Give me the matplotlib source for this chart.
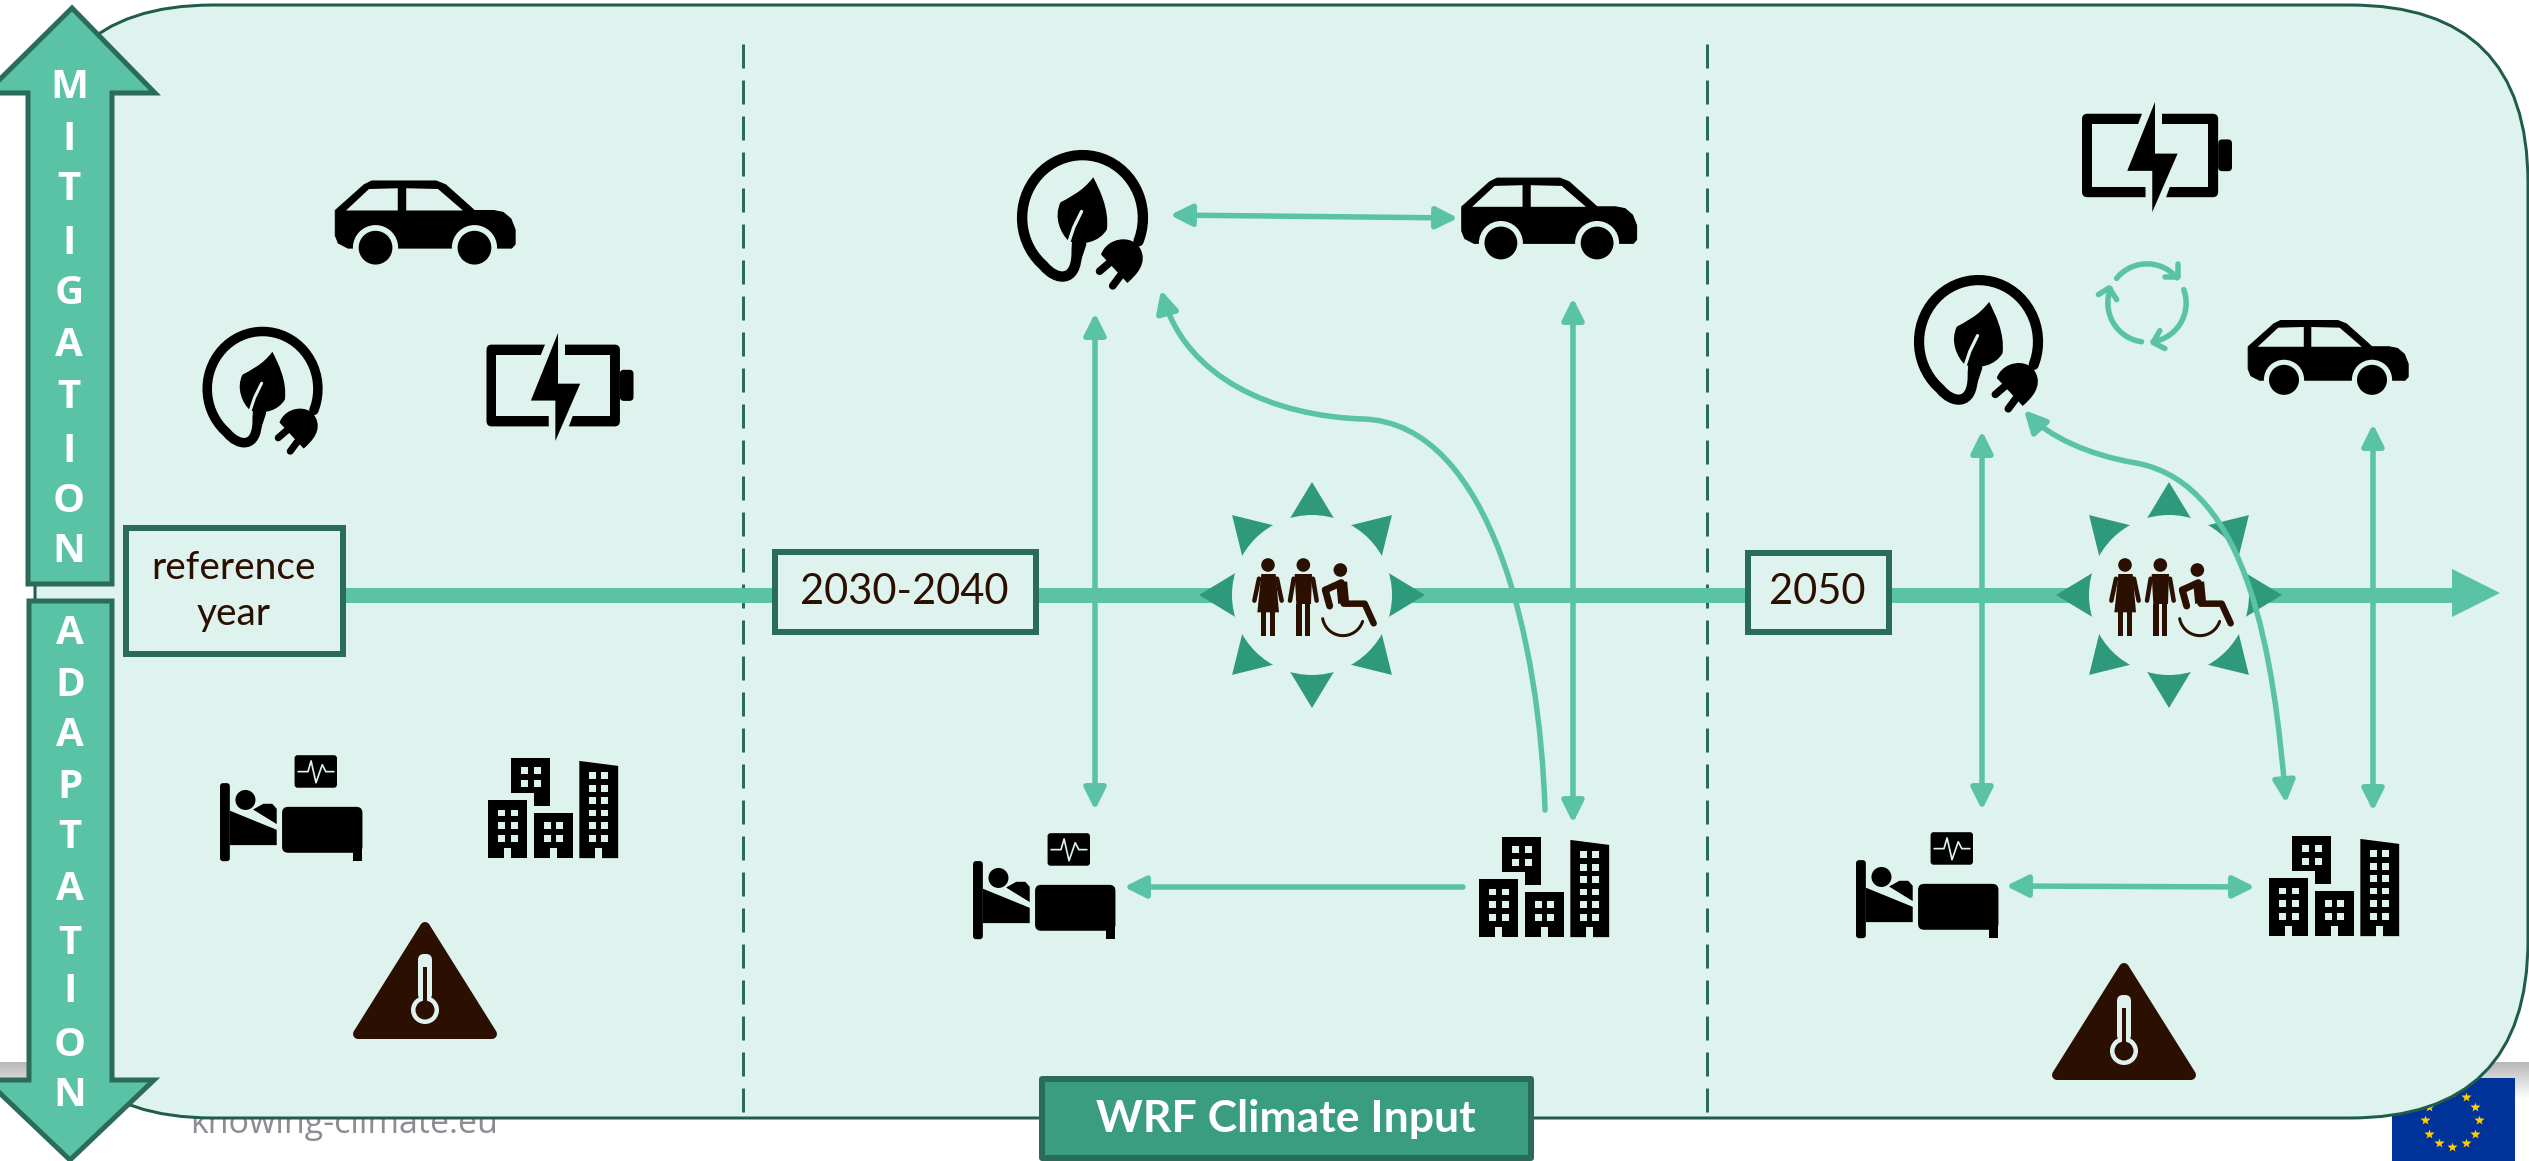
"""Climate pathway diagram: mitigation and adaptation over three time slices."""
import matplotlib

matplotlib.use("Agg")
import matplotlib.pyplot as plt
import numpy as np
from matplotlib.patches import Circle, Ellipse, FancyArrowPatch, FancyBboxPatch, PathPatch, Polygon, Rectangle
from matplotlib.path import Path

# Colours
PANEL = "#def3ed"
EDGE = "#2b6b5a"
MINT = "#5ac3a5"
DARK_MINT = "#2f9a7b"
BROWN = "#2b0f00"

# Labels
MITIGATION = list("MITIGATION")
MITIGATION_Y = [87, 140, 190, 244, 293, 346, 398, 451, 501, 551]
ADAPTATION = list("ADAPTATION")
ADAPTATION_Y = [633, 686, 735, 788, 837, 890, 943, 992, 1045, 1095]
BOX_LABELS = ["reference\nyear", "2030-2040", "2050"]
BOX_X = [(126, 343), (775, 1036), (1748, 1889)]
BOX_Y = [(528, 654), (552, 632), (553, 632)]
DASHED_X = [743, 1707]

# Icons as (centre x, centre y, width)
CARS = [(425, 222, 181), (1549, 218, 176), (2328, 357, 161)]
PLUGS = [(263, 390, 120), (1083, 219, 131), (1979, 343, 129)]
BATTERIES = [(560, 387, 147), (2157, 157, 150)]
BEDS = [(291, 808, 144), (1044, 886, 144), (1927, 885, 144)]
CITIES = [(553, 808, 132), (1544, 887, 132), (2334, 886, 132)]
WARNINGS = [(425, 980, 147), (2124, 1021, 147)]
PEOPLE = [(1312, 595), (2169, 595)]
RECYCLE = (2147, 303)

# Links between icons
DOUBLE_LINKS = [
    ((1170, 215), (1458, 218)),
    ((1095, 313), (1095, 810)),
    ((1573, 298), (1573, 823)),
    ((1982, 431), (1982, 810)),
    ((2373, 424), (2373, 811)),
    ((2006, 886), (2255, 887)),
]
SINGLE_LINKS = [((1463, 887), (1124, 887))]
CURVE_MID = [(1545, 810), (1540, 645), (1492, 423), (1363, 419), (1274, 416), (1186, 379), (1161, 290)]
CURVE_RIGHT = [(2286, 803), (2274, 661), (2250, 484), (2136, 463), (2088, 455), (2048, 436), (2024, 410)]


def px(n):
    """Pixels to points at 100 dpi."""
    return n * 0.72


def mapper(ox, oy, kx, ky, cx, cy, s):
    """Map sketch coordinates of an icon onto the canvas."""

    def convert(pts):
        pts = np.asarray(pts, dtype=float).reshape(-1, 2)
        return np.column_stack([cx + (pts[:, 0] - ox) / kx * s, cy + (pts[:, 1] - oy) / ky * s])

    return convert


def poly(ax, pts, color, z, lw=0):
    ax.add_patch(Polygon(pts, closed=True, fc=color, ec=color, lw=px(lw), joinstyle="round", zorder=z))


def stroke(ax, pts, color, width, z, cap="round"):
    ax.plot(pts[:, 0], pts[:, 1], color=color, lw=px(width), solid_capstyle=cap, solid_joinstyle="round", zorder=z)


def box(ax, t, x0, y0, x1, y1, color, z):
    """Axis aligned rectangle given in sketch coordinates."""
    (a, b), (c, d) = t([(x0, y0), (x1, y1)])
    ax.add_patch(Rectangle((a, b), c - a, d - b, fc=color, ec="none", zorder=z))


def rbox(ax, t, x0, y0, x1, y1, r, color, z):
    (a, b), (c, d) = t([(x0, y0), (x1, y1)])
    ax.add_patch(FancyBboxPatch((a + r, b + r), c - a - 2 * r, d - b - 2 * r, boxstyle=f"round,pad={r}",
                                fc=color, ec="none", zorder=z))


def draw_car(ax, cx, cy, w):
    t = mapper(971, 830, 472, 472, cx, cy, w)
    s = w / 472
    body = [(737, 800), (812, 733), (832, 723), (1000, 723), (1025, 733), (1100, 800), (1150, 800), (1175, 805),
            (1195, 822), (1206, 850), (1206, 888), (1197, 898), (770, 898), (745, 885), (737, 865)]
    poly(ax, t(body), "black", 6, lw=1)
    poly(ax, t([(765, 800), (825, 744), (900, 742), (900, 800)]), PANEL, 6.1)
    poly(ax, t([(922, 742), (1005, 744), (1070, 800), (922, 800)]), PANEL, 6.1)
    for wheel_x in (842, 1100):
        (wx, wy), = t([(wheel_x, 897)])
        ax.add_patch(Circle((wx, wy), 59 * s, fc=PANEL, ec="none", zorder=6.2))
        ax.add_patch(Circle((wx, wy), 44 * s, fc="black", ec="none", zorder=6.3))


def draw_battery(ax, cx, cy, w):
    t = mapper(464, 225, 444, 444, cx, cy, w)
    s = w / 444
    rbox(ax, t, 645, 173, 686, 267, 12 * s, "black", 6)
    rbox(ax, t, 242, 97, 645, 344, 16 * s, "black", 6)
    box(ax, t, 272, 128, 615, 313, PANEL, 6.1)
    poly(ax, t([(422, 90), (478, 90), (478, 135), (405, 135)]), PANEL, 6.2)
    poly(ax, t([(430, 305), (505, 305), (488, 352), (430, 352)]), PANEL, 6.2)
    poly(ax, t([(458, 62), (458, 215), (525, 215), (450, 388), (450, 266), (376, 266)]), "black", 6.3)


def draw_plug(ax, cx, cy, w):
    t = mapper(591, 1015, 2.24, 2.613, cx, cy, w / 120)
    s = w / 120
    angles = np.radians(np.arange(-22, 233, 6))
    ring = np.column_stack([590 + 124 * np.cos(angles), 1012 - 150 * np.sin(angles)])
    tail = [(535, 1162), (578, 1170), (578, 1095), (578, 1075), (580, 1050), (590, 1000)]
    verts = t(np.vstack([ring, tail]))
    codes = [Path.MOVETO] + [Path.LINETO] * (len(ring) - 1) + [Path.CURVE4] * 6
    ax.add_patch(PathPatch(Path(verts, codes), fc="none", ec="black", lw=px(9.5 * s), capstyle="round", zorder=6))
    leaf = Path(t([(612, 915), (590, 950), (560, 965), (545, 975), (530, 1010), (545, 1050), (562, 1068), (590, 1080),
                   (625, 1070), (640, 1040), (645, 990), (625, 945), (612, 915)]),
                [Path.MOVETO] + [Path.CURVE4] * 12)
    ax.add_patch(PathPatch(leaf, fc="black", ec="black", lw=0, zorder=6.1))
    stroke(ax, t([(588, 997), (572, 1035), (562, 1070)]), PANEL, 3 * s, 6.2)
    stroke(ax, t([(590, 1075), (580, 1110)]), "black", 7 * s, 6.3)
    head = Path(t([(628, 1100), (640, 1060), (690, 1050), (708, 1085), (725, 1120), (700, 1150), (682, 1168), (628, 1100)]),
                [Path.MOVETO] + [Path.CURVE4] * 6 + [Path.CLOSEPOLY])
    ax.add_patch(PathPatch(head, fc="black", ec="none", zorder=6.4))
    stroke(ax, t([(645, 1120), (625, 1140)]), "black", 7 * s, 6.4)
    stroke(ax, t([(668, 1150), (652, 1175)]), "black", 7 * s, 6.4)


def draw_bed(ax, cx, cy, w):
    t = mapper(652, 648, 2.24, 2.613, cx, cy, w / 144)
    s = w / 144
    rbox(ax, t, 493, 583, 515, 787, 3 * s, "black", 6)
    poly(ax, t([(515, 655), (620, 705), (620, 745), (515, 745)]), "black", 6)
    (hx, hy), = t([(550, 627)])
    ax.add_patch(Ellipse((hx, hy), 20 * s, 20 * s, fc="black", ec="none", zorder=6))
    poly(ax, t([(567, 652), (590, 637), (610, 637), (620, 650), (620, 690)]), "black", 6)
    rbox(ax, t, 632, 645, 812, 765, 6 * s, "black", 6)
    box(ax, t, 790, 750, 812, 787, "black", 6)
    rbox(ax, t, 660, 510, 755, 595, 3 * s, "black", 6)
    ecg = [(668, 553), (690, 553), (697, 525), (708, 582), (722, 535), (730, 553), (748, 553)]
    stroke(ax, t(ecg), PANEL, 1.7 * s, 6.1)


def draw_city(ax, cx, cy, w):
    t = mapper(1238, 646, 2.24, 2.613, cx, cy, w / 132)
    poly(ax, t([(1144, 515), (1232, 515), (1232, 642), (1195, 642), (1195, 607), (1144, 607)]), "black", 6)
    box(ax, t, 1093, 625, 1180, 777, "black", 6)
    box(ax, t, 1195, 658, 1282, 777, "black", 6)
    poly(ax, t([(1297, 523), (1384, 536), (1384, 777), (1297, 777)]), "black", 6)
    towers = [
        (1167, [540, 573], False),
        (1115, [650, 683, 717], True),
        (1217, [683, 717], True),
        (1318, [553, 585, 617, 650, 683, 717], True),
    ]
    for x0, rows, door in towers:
        for y0 in rows:
            box(ax, t, x0, y0, x0 + 16, y0 + 18, PANEL, 6.1)
            box(ax, t, x0 + 28, y0, x0 + 44, y0 + 18, PANEL, 6.1)
        if door:
            box(ax, t, x0 + 14, 750, x0 + 30, 778, PANEL, 6.1)


def draw_warning(ax, cx, cy, w):
    s = w / 147
    t = mapper(0, 0, 1, 1, cx, cy, s)
    poly(ax, t([(0, -53), (67, 54), (-67, 54)]), BROWN, 6, lw=10 * s)
    rbox(ax, t, -7, -26, 7, 20, 6 * s, PANEL, 6.1)
    (bx, by), = t([(0, 30)])
    ax.add_patch(Circle((bx, by), 14 * s, fc=PANEL, ec="none", zorder=6.1))
    ax.add_patch(Circle((bx, by), 9.5 * s, fc=BROWN, ec="none", zorder=6.2))
    box(ax, t, -2, -13, 2, 24, BROWN, 6.2)


def draw_people(ax, cx, cy):
    """Sun of triangles around a woman, a man and a wheelchair user."""
    for deg in range(0, 360, 45):
        a = np.radians(deg)
        ux, uy = np.cos(a), np.sin(a)
        tip = (cx + 113 * ux, cy + 113 * uy)
        b1 = (cx + 70 * ux - 26 * uy, cy + 70 * uy + 26 * ux)
        b2 = (cx + 70 * ux + 26 * uy, cy + 70 * uy - 26 * ux)
        poly(ax, [tip, b1, b2], DARK_MINT, 2.4)
    ax.add_patch(Circle((cx, cy), 80, fc=PANEL, ec="none", zorder=2.5))
    t = mapper(487, 345, 3, 3, cx, cy, 1)
    for hx, hy in [(355, 255), (461, 255), (572, 270)]:
        (a, b), = t([(hx, hy)])
        ax.add_patch(Circle((a, b), 6.8, fc=BROWN, ec="none", zorder=6))
    # woman
    poly(ax, t([(335, 282), (378, 282), (388, 397), (323, 397)]), BROWN, 6)
    stroke(ax, t([(328, 296), (314, 362)]), BROWN, 4.5, 6)
    stroke(ax, t([(382, 296), (396, 362)]), BROWN, 4.5, 6)
    box(ax, t, 335, 397, 350, 467, BROWN, 6)
    box(ax, t, 362, 397, 377, 467, BROWN, 6)
    # man
    poly(ax, t([(435, 282), (487, 282), (484, 372), (440, 372)]), BROWN, 6)
    stroke(ax, t([(432, 296), (421, 362)]), BROWN, 4.5, 6)
    stroke(ax, t([(490, 296), (501, 362)]), BROWN, 4.5, 6)
    box(ax, t, 440, 372, 457, 467, BROWN, 6)
    box(ax, t, 465, 372, 482, 467, BROWN, 6)
    # wheelchair
    stroke(ax, t([(576, 306), (582, 370)]), BROWN, 11, 6, cap="butt")
    stroke(ax, t([(527, 330), (575, 308)]), BROWN, 7, 6)
    stroke(ax, t([(527, 330), (540, 378)]), BROWN, 7, 6)
    stroke(ax, t([(582, 371), (645, 371), (672, 430)]), BROWN, 6.5, 6)
    angles = np.radians(np.arange(18, 178, 8))
    wheel = np.column_stack([580 + 62 * np.cos(angles), 405 + 62 * np.sin(angles)])
    stroke(ax, t(wheel), BROWN, 3, 6)


def draw_recycle(ax, cx, cy):
    t = mapper(0, 0, 2.964, 2.964, cx, cy, 1)
    arcs = [(141, 40), (20, -81), (-98, -201)]
    heads = [
        [(93, -78), (93, -115), (53, -78)],
        [(18, 117), (38, 82), (53, 135)],
        [(-112, -45), (-144, -25), (-90, -10)],
    ]
    for (a0, a1), head in zip(arcs, heads):
        angles = np.radians(np.linspace(a0, a1, 30))
        arc = np.column_stack([116 * np.cos(angles), -116 * np.sin(angles)])
        stroke(ax, t(arc), MINT, 5.5, 6)
        corner, end1, end2 = head
        stroke(ax, t([end1, corner, end2]), MINT, 5.5, 6)


def bezier_path(points):
    return Path(points, [Path.MOVETO] + [Path.CURVE4] * (len(points) - 1))


def big_arrow(ax, pts):
    ax.add_patch(Polygon(pts, closed=True, fc=MINT, ec=EDGE, lw=px(5), joinstyle="miter", zorder=8))


fig = plt.figure(figsize=(25.29, 11.61), dpi=100)
ax = fig.add_axes([0, 0, 1, 1])

# Slide remnants behind the panel
fade = np.linspace(0.72, 1.0, 32).reshape(-1, 1)
ax.imshow(fade, extent=(0, 60, 1100, 1062), cmap="gray", vmin=0, vmax=1, aspect="auto", zorder=0)
ax.imshow(fade, extent=(2280, 2529, 1100, 1062), cmap="gray", vmin=0, vmax=1, aspect="auto", zorder=0)
ax.add_patch(Rectangle((2392, 1078), 123, 90, fc="#003399", ec="none", zorder=0.5))
for deg in range(0, 360, 30):
    a = np.radians(deg)
    ax.plot(2452 + 27 * np.cos(a), 1120 + 27 * np.sin(a), marker="*", ms=7, color="#ffcc00", mec="none", zorder=0.6)
ax.text(190, 1133, "knowing-climate.eu", family="Open Sans", fontsize=24.5, color="#8c8c92", va="baseline", zorder=0.6)

# Rounded panel
ax.add_patch(FancyBboxPatch((35 + 178, 5 + 178), 2528 - 35 - 356, 1118 - 5 - 356, boxstyle="round,pad=178,rounding_size=178",
                            fc=PANEL, ec="#1f5c4c", lw=px(3), zorder=1))

for x in DASHED_X:
    ax.plot([x, x], [44, 1122], color=EDGE, lw=px(3), ls=(0, (8, 4)), zorder=1.5)

# Time line
ax.plot([337, 2460], [595, 595], color=MINT, lw=px(15), solid_capstyle="butt", zorder=2)
ax.add_patch(Polygon([(2452, 569), (2500, 593), (2452, 617)], closed=True, fc=MINT, ec="none", zorder=2))

for cx, cy in PEOPLE:
    draw_people(ax, cx, cy)

# Time slice boxes
for label, (x0, x1), (y0, y1) in zip(BOX_LABELS, BOX_X, BOX_Y):
    ax.add_patch(Rectangle((x0, y0), x1 - x0, y1 - y0, fc=PANEL, ec=EDGE, lw=px(6), joinstyle="miter", zorder=4))
    ax.text((x0 + x1) / 2 - 1, (y0 + y1) / 2, label, family="Lato", fontsize=30 if "\n" not in label else 28,
            color=BROWN, ha="center", va="center", linespacing=1.35, zorder=5)

ax.add_patch(Rectangle((1042, 1079), 489, 79, fc="#3a9d80", ec=EDGE, lw=px(6), joinstyle="round", zorder=7))
ax.text(1286, 1119, "WRF Climate Input", family="Lato", fontweight="bold", fontsize=32, color="white",
        ha="center", va="center", zorder=7.5)

# Icons
for cx, cy, w in CARS:
    draw_car(ax, cx, cy, w)
for cx, cy, w in PLUGS:
    draw_plug(ax, cx, cy, w)
for cx, cy, w in BATTERIES:
    draw_battery(ax, cx, cy, w)
for cx, cy, w in BEDS:
    draw_bed(ax, cx, cy, w)
for cx, cy, w in CITIES:
    draw_city(ax, cx, cy, w)
for cx, cy, w in WARNINGS:
    draw_warning(ax, cx, cy, w)
draw_recycle(ax, *RECYCLE)

# Links
link_style = dict(color=MINT, lw=px(5.5), mutation_scale=1, shrinkA=0, shrinkB=0, zorder=5.5)
both = "<|-|>,head_length=13,head_width=6.5"
single = "-|>,head_length=13,head_width=6.5"
for start, end in DOUBLE_LINKS:
    ax.add_patch(FancyArrowPatch(start, end, arrowstyle=both, **link_style))
for start, end in SINGLE_LINKS:
    ax.add_patch(FancyArrowPatch(start, end, arrowstyle=single, **link_style))
ax.add_patch(FancyArrowPatch(path=bezier_path(CURVE_MID), arrowstyle=single, **link_style))
ax.add_patch(FancyArrowPatch(path=bezier_path(CURVE_RIGHT), arrowstyle=both, **link_style))

# Mitigation and adaptation arrows
big_arrow(ax, [(72, 8), (155, 93), (112, 93), (112, 584), (28, 584), (28, 93), (-14, 93)])
big_arrow(ax, [(29, 601), (112, 601), (112, 1080), (154, 1080), (70, 1160), (-14, 1080), (29, 1080)])
for letter, y in zip(MITIGATION, MITIGATION_Y):
    ax.text(69, y, letter, family="Open Sans", fontweight="bold", fontsize=29, color="white",
            ha="center", va="center", zorder=9)
for letter, y in zip(ADAPTATION, ADAPTATION_Y):
    ax.text(70, y, letter, family="Open Sans", fontweight="bold", fontsize=29, color="white",
            ha="center", va="center", zorder=9)

ax.set_xlim(0, 2529)
ax.set_ylim(1161, 0)
ax.axis("off")
fig.savefig("out.png", dpi=100, facecolor="white")
